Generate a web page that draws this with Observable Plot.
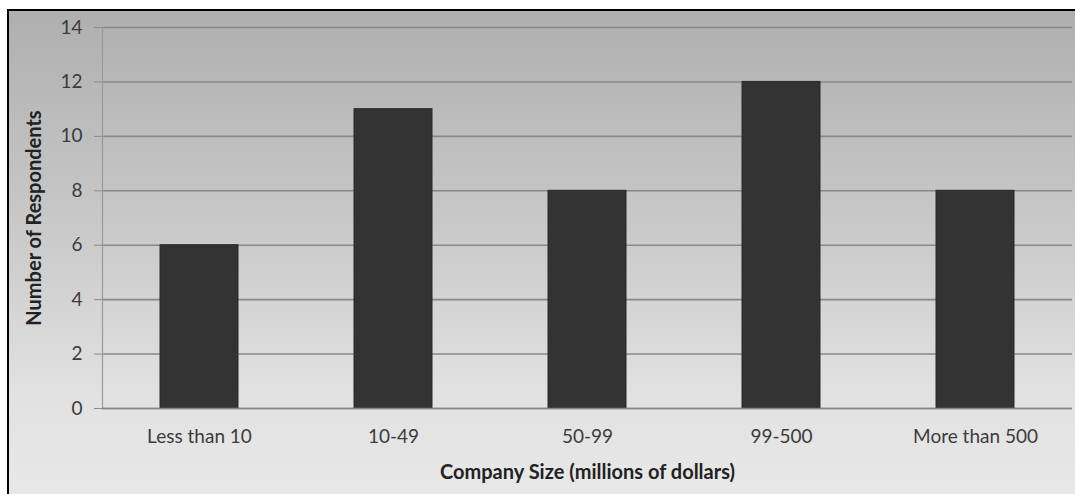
<!DOCTYPE html>
<html>
<head>
<meta charset="utf-8">
<script src="https://cdn.jsdelivr.net/npm/d3@7"></script>
<script src="https://cdn.jsdelivr.net/npm/@observablehq/plot@0.6"></script>
<style>
  html, body { margin: 0; padding: 0; background: #fff; width: 1075px; height: 494px; overflow: hidden; }
  #frame {
    position: absolute; left: 7px; top: 9px; width: 1068px; height: 485px;
    border-top: 2px solid #000; border-left: 2px solid #000;
    background: linear-gradient(to bottom, #afafaf 0%, #c6c6c6 40%, #e2e2e2 80%, #e8e8e8 100%);
  }
  #frame svg { background: transparent !important; display: block; }
</style>
</head>
<body>
<div id="frame"></div>
<script>
const categories = ["Less than 10", "10-49", "50-99", "99-500", "More than 500"];
const respondents = [6, 11, 8, 12, 8];
const yTicks = [0, 2, 4, 6, 8, 10, 12, 14];

const data = categories.map((c, i) => ({category: c, value: respondents[i]}));

const chart = Plot.plot({
  width: 1066,
  height: 483,
  marginLeft: 93,
  marginRight: 3,
  marginTop: 16,
  marginBottom: 86,
  style: {fontFamily: "Lato, 'Open Sans', sans-serif", background: "transparent", color: "#404040"},
  x: {domain: categories, paddingInner: 0.6, paddingOuter: 0.3},
  y: {domain: [0, 14]},
  marks: [
    Plot.gridY(yTicks, {stroke: "#888", strokeOpacity: 1, strokeWidth: 1.6}),
    Plot.frame({anchor: "left", stroke: "#9a9a9a", strokeWidth: 1.2}),
    Plot.barY(data, {x: "category", y: "value", fill: "#333333", stroke: "#2a2a2a", strokeWidth: 1}),
    Plot.axisY(yTicks, {
      tickSize: 8, tickPadding: 12, stroke: "#8a8a8a", fontSize: 19, fill: "#3c3c3c",
      label: "Number of Respondents", labelAnchor: "center", labelArrow: "none", labelOffset: 76
    }),
    Plot.axisX({
      tickSize: 0, tickPadding: 21, fontSize: 19, fill: "#3c3c3c",
      label: "Company Size (millions of dollars)", labelAnchor: "center", labelArrow: "none", labelOffset: 70
    }),
    Plot.ruleY([0], {stroke: "#8a8a8a", strokeWidth: 1.5})
  ]
});

// style axis labels bold
chart.querySelectorAll("g[aria-label='y-axis label'] text, g[aria-label='x-axis label'] text").forEach(t => {
  t.setAttribute("font-weight", "bold");
  t.setAttribute("fill", "#222");
  t.setAttribute("font-size", "20");
});
document.getElementById("frame").appendChild(chart);
</script>
</body>
</html>
